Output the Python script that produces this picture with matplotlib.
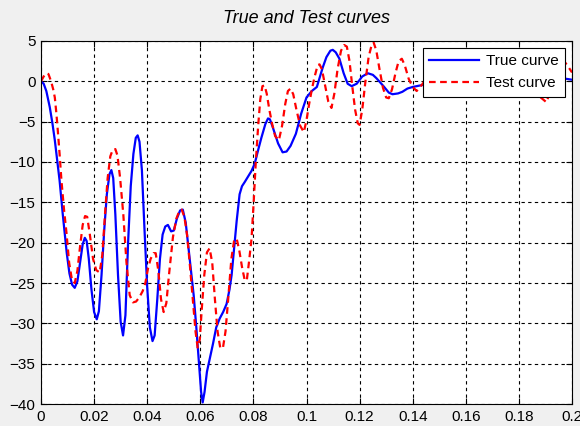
#!/usr/bin/env python3
"""
True vs Test curves - MATLAB style comparison plot
"""

import numpy as np
import matplotlib
matplotlib.use('Agg')  # Non-interactive backend
import matplotlib.pyplot as plt

# True curve
true_x = [0.0000, 0.0010, 0.0020, 0.0033, 0.0043, 0.0052, 0.0061, 0.0070, 0.0082, 0.0090,
          0.0097, 0.0107, 0.0117, 0.0127, 0.0137, 0.0147, 0.0157, 0.0165, 0.0172, 0.0180,
          0.0190, 0.0200, 0.0210, 0.0218, 0.0228, 0.0238, 0.0248, 0.0258, 0.0265, 0.0272,
          0.0280, 0.0290, 0.0300, 0.0309, 0.0318, 0.0328, 0.0338, 0.0348, 0.0357, 0.0364,
          0.0371, 0.0380, 0.0390, 0.0400, 0.0410, 0.0420, 0.0428, 0.0438, 0.0448, 0.0458,
          0.0468, 0.0478, 0.0490, 0.0500, 0.0512, 0.0524, 0.0534, 0.0545, 0.0555, 0.0565,
          0.0575, 0.0585, 0.0595, 0.0603, 0.0609, 0.0616, 0.0625, 0.0635, 0.0648, 0.0660,
          0.0673, 0.0686, 0.0699, 0.0710, 0.0718, 0.0728, 0.0737, 0.0748, 0.0757, 0.0767,
          0.0780, 0.0793, 0.0805, 0.0818, 0.0830, 0.0845, 0.0855, 0.0862, 0.0872, 0.0882,
          0.0893, 0.0910, 0.0925, 0.0940, 0.0960, 0.0980, 0.1000, 0.1020, 0.1039, 0.1050,
          0.1061, 0.1075, 0.1090, 0.1099, 0.1110, 0.1124, 0.1140, 0.1155, 0.1170, 0.1189,
          0.1210, 0.1231, 0.1250, 0.1263, 0.1290, 0.1310, 0.1324, 0.1345, 0.1361, 0.1380,
          0.1400, 0.1430, 0.1470, 0.1520, 0.1570, 0.1620, 0.1670, 0.1720, 0.1770, 0.1820,
          0.1870, 0.1920, 0.1960, 0.2000]
true_y = [0.0, -0.3, -1.2, -3.2, -5.2, -7.3, -9.8, -12.3, -16.5, -19.0,
          -21.3, -23.8, -25.2, -25.6, -24.8, -22.5, -20.2, -19.4, -19.8, -22.0,
          -25.8, -28.6, -29.5, -28.5, -24.0, -18.5, -14.0, -11.5, -11.0, -12.0,
          -16.5, -24.0, -29.8, -31.5, -29.0, -20.0, -13.0, -9.0, -7.0, -6.7,
          -7.5, -11.0, -18.5, -25.5, -30.5, -32.2, -31.5, -27.0, -22.0, -19.0,
          -18.0, -17.8, -18.6, -18.5, -17.0, -16.0, -15.9, -17.5, -20.5, -23.5,
          -26.5, -30.5, -35.0, -38.5, -39.8, -38.5, -36.0, -34.5, -32.5, -30.5,
          -29.4, -28.6, -27.6, -25.8, -24.0, -20.5, -17.3, -14.0, -13.0, -12.5,
          -11.8, -11.1, -10.2, -8.5, -7.0, -5.3, -4.6, -4.7, -5.6, -6.6,
          -7.7, -8.8, -8.7, -8.0, -6.5, -4.0, -2.0, -1.2, -0.7, 0.5,
          1.7, 3.0, 3.8, 3.9, 3.6, 2.8, 1.0, -0.3, -0.6, -0.3,
          0.6, 1.0, 0.8, 0.4, -0.6, -1.4, -1.6, -1.5, -1.3, -0.9,
          -0.7, -0.5, -0.3, -0.6, -0.8, -0.4, 0.0, 0.3, -0.2, -0.5,
          -0.2, 0.1, 0.4, 0.2]

# Test curve
test_x = [0.0000, 0.0010, 0.0020, 0.0028, 0.0038, 0.0046, 0.0052, 0.0058, 0.0063, 0.0070,
          0.0077, 0.0087, 0.0096, 0.0106, 0.0117, 0.0127, 0.0137, 0.0147, 0.0157, 0.0166,
          0.0174, 0.0184, 0.0196, 0.0208, 0.0221, 0.0231, 0.0241, 0.0251, 0.0261, 0.0270,
          0.0280, 0.0288, 0.0298, 0.0310, 0.0322, 0.0334, 0.0346, 0.0358, 0.0370, 0.0383,
          0.0393, 0.0403, 0.0413, 0.0424, 0.0432, 0.0442, 0.0452, 0.0462, 0.0472, 0.0482,
          0.0497, 0.0510, 0.0522, 0.0530, 0.0540, 0.0550, 0.0560, 0.0572, 0.0582, 0.0590,
          0.0598, 0.0606, 0.0615, 0.0625, 0.0635, 0.0645, 0.0655, 0.0665, 0.0675, 0.0685,
          0.0695, 0.0705, 0.0717, 0.0727, 0.0737, 0.0747, 0.0757, 0.0767, 0.0775, 0.0783,
          0.0793, 0.0801, 0.0809, 0.0818, 0.0826, 0.0834, 0.0842, 0.0850, 0.0860, 0.0870,
          0.0882, 0.0896, 0.0908, 0.0920, 0.0930, 0.0940, 0.0950, 0.0962, 0.0976, 0.0990,
          0.1000, 0.1010, 0.1019, 0.1030, 0.1042, 0.1049, 0.1058, 0.1070, 0.1082, 0.1094,
          0.1105, 0.1117, 0.1130, 0.1142, 0.1152, 0.1162, 0.1172, 0.1183, 0.1193, 0.1200,
          0.1210, 0.1222, 0.1234, 0.1246, 0.1253, 0.1263, 0.1275, 0.1288, 0.1300, 0.1310,
          0.1322, 0.1335, 0.1347, 0.1359, 0.1370, 0.1385, 0.1400, 0.1415, 0.1440, 0.1465,
          0.1490, 0.1515, 0.1545, 0.1575, 0.1605, 0.1635, 0.1665, 0.1695, 0.1725, 0.1755,
          0.1785, 0.1815, 0.1845, 0.1875, 0.1904, 0.1920, 0.1935, 0.1950, 0.1963, 0.1975,
          0.1990, 0.2000]
test_y = [0.0, 0.6, 1.0, 0.9, 0.0, -1.0, -2.0, -4.0, -6.0, -9.0,
          -12.3, -16.0, -18.8, -22.5, -24.7, -25.0, -23.5, -20.5, -17.8, -16.7,
          -16.8, -19.0, -22.0, -23.4, -23.7, -21.5, -16.5, -12.0, -9.3, -8.5,
          -8.4, -9.2, -12.0, -16.5, -22.5, -26.5, -27.4, -27.3, -26.8, -26.0,
          -25.0, -23.2, -22.0, -21.3, -21.3, -23.5, -27.0, -28.6, -27.5, -24.0,
          -19.3, -17.0, -16.0, -15.9, -16.8, -19.0, -22.5, -27.1, -31.0, -33.0,
          -32.0, -28.0, -24.0, -21.2, -20.7, -22.5, -27.0, -31.0, -33.0, -33.1,
          -31.0, -27.0, -22.0, -19.8, -19.5, -21.0, -23.0, -24.6, -24.7, -22.5,
          -19.5, -15.0, -10.0, -5.5, -2.2, -0.6, -0.5, -1.5, -3.5, -5.2,
          -6.8, -7.3, -5.5, -2.8, -1.2, -0.9, -1.6, -3.5, -5.5, -6.3,
          -4.8, -2.8, -1.2, 0.5, 2.0, 2.1, 1.5, -0.5, -2.5, -3.3,
          -1.5, 1.5, 3.8, 4.5, 4.3, 2.5, -0.5, -3.5, -5.2, -5.4,
          -3.5, 0.0, 3.0, 4.6, 4.8, 3.8, 1.5, -0.8, -2.0, -2.1,
          -1.0, 1.0, 2.5, 2.8, 2.0, 0.3, -0.7, -1.2, -0.2, 1.8,
          0.5, -1.5, 0.2, 2.0, 0.8, -1.3, 0.0, 2.2, 1.0, -1.0,
          0.5, 2.0, 0.5, -1.8, -2.6, -1.0, 1.0, 2.5, 2.8, 2.3,
          1.6, 1.1]

x_ticks = [0, 0.02, 0.04, 0.06, 0.08, 0.1, 0.12, 0.14, 0.16, 0.18, 0.2]
x_labels = ['0', '0.02', '0.04', '0.06', '0.08', '0.1', '0.12', '0.14', '0.16', '0.18', '0.2']
y_ticks = [-40, -35, -30, -25, -20, -15, -10, -5, 0, 5]


def main():
    plt.rcParams['font.family'] = ['Liberation Sans', 'DejaVu Sans']

    fig = plt.figure(figsize=(5.8, 4.26), dpi=100, facecolor='#f0f0f0')
    ax = fig.add_axes([0.0707, 0.0516, 0.9155, 0.8522])
    ax.set_facecolor('white')

    ax.plot(true_x, true_y, color='#0000ff', lw=1.6, label='True curve')
    ax.plot(test_x, test_y, color='#ff0000', lw=1.6, dashes=(3, 2), label='Test curve')

    ax.set_xlim(0, 0.2)
    ax.set_ylim(-40, 5)
    ax.set_xticks(x_ticks)
    ax.set_xticklabels(x_labels)
    ax.set_yticks(y_ticks)
    ax.tick_params(direction='in', length=4, width=0.8, labelsize=11,
                   top=True, right=True, pad=4)

    ax.grid(True, color='black', linestyle=(0, (3, 3)), linewidth=0.8)
    for sp in ax.spines.values():
        sp.set_color('black')
        sp.set_linewidth(0.8)

    ax.set_title('True and Test curves', fontsize=13, style='italic', pad=13)

    leg = ax.legend(loc='upper right', bbox_to_anchor=(0.987, 0.981), borderaxespad=0,
                    fontsize=11, handlelength=3.3, handletextpad=0.45, labelspacing=0.55,
                    fancybox=False, framealpha=1, edgecolor='black', borderpad=0.4)
    leg.get_frame().set_linewidth(0.8)

    fig.savefig('out.png', dpi=100, facecolor=fig.get_facecolor())
    plt.close(fig)


if __name__ == '__main__':
    main()
